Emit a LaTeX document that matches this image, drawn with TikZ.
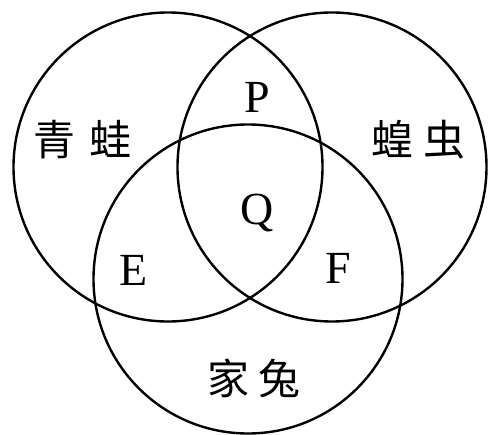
\documentclass[tikz,border=0pt]{standalone}
\usepackage{fontspec}
\setmainfont{Liberation Serif}
\newfontfamily\cjk{Noto Sans CJK SC}
\begin{document}
\begin{tikzpicture}[x=1pt,y=-1pt,
  venn/.style={draw, circle, line width=2.4pt, minimum size=309pt, inner sep=0, outer sep=0},
  lat/.style={font=\fontsize{46}{46}\selectfont, inner sep=0},
  han/.style={font=\cjk\fontsize{42}{42}\selectfont, inner sep=0}]
\useasboundingbox (0,0) rectangle (490,435);
\node[venn] (frog) at (168,167) {};
\node[venn] (locust) at (332,167) {};
\node[venn] (rabbit) at (248,279) {};
\node[han] (t1) at (83,140) {青\hspace{14pt}蛙};
\node[han] (t2) at (418,140) {蝗\hspace{10pt}虫};
\node[han] (t3) at (254,378) {家\hspace{10pt}兔};
\node[lat] (P) at (257,97) {P};
\node[lat] (Q) at (257,213) {Q};
\node[lat] (E) at (134,270) {E};
\node[lat] (F) at (338,268) {F};
\end{tikzpicture}
\end{document}
